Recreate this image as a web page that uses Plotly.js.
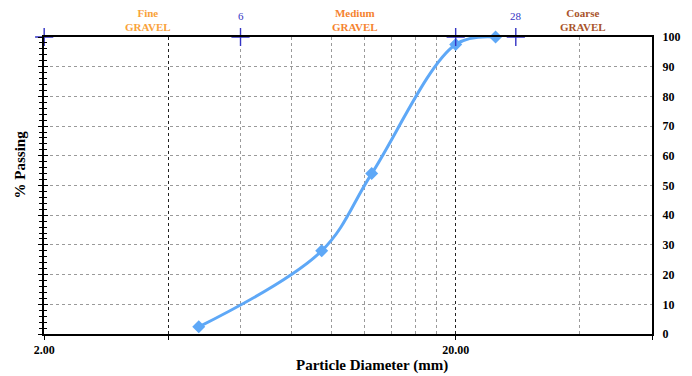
<!DOCTYPE html>
<html>
<head>
<meta charset="utf-8">
<script src="https://cdn.plot.ly/plotly-3.0.1.min.js"></script>
<style>html,body{margin:0;padding:0;background:#fff;}#chart{width:692px;height:376px;}</style>
</head>
<body>
<div id="chart"></div>
<script>
// Data
const diameter = [4.75, 9.45, 12.5, 20, 25];      // mm
const passing  = [2.4, 28, 54, 97.5, 100];       // %
const sieveMarks = [2, 6, 20, 28];
const sieveLabels = ['', '6', '', '28'];
const bottomTicks = [2, 4, 20, 60];
const bottomTickText = ['2.00', '', '20.00', ''];
const minorGrid = [6, 8, 10, 12, 14, 16, 18, 40];
const classNames = ['Fine<br>GRAVEL', 'Medium<br>GRAVEL', 'Coarse<br>GRAVEL'];
const classColors = ['#F9A23A', '#F5832F', '#A9532A'];
const classPos = [0.171, 0.512, 0.887];

const SERIF = 'Times New Roman, Liberation Serif, DejaVu Serif, serif';
const serifBold = {family: SERIF, size: 12, color: '#000', weight: 'bold'};
const blue = '#3434C4';
const lineBlue = '#5EA8F7';

const traces = [
  {x: diameter, y: passing, mode: 'lines', type: 'scatter',
   line: {shape: 'spline', smoothing: 1, color: lineBlue, width: 3},
   cliponaxis: true, hoverinfo: 'skip'},
  {x: diameter, y: passing, mode: 'markers', type: 'scatter',
   marker: {symbol: 'diamond', size: 10, color: lineBlue},
   cliponaxis: false},
  {x: sieveMarks, y: sieveMarks.map(() => 100), mode: 'markers', type: 'scatter',
   xaxis: 'x2', yaxis: 'y3',
   marker: {symbol: 'cross-thin', size: 13, color: blue, line: {color: blue, width: 1.4}},
   cliponaxis: false}
];

const annotations = [];
classNames.forEach((t, i) => annotations.push({
  text: '<b>' + t + '</b>', xref: 'paper', yref: 'paper', x: classPos[i], y: 1.008,
  xanchor: 'center', yanchor: 'bottom', showarrow: false,
  font: {family: SERIF, size: 11, color: classColors[i]}
}));
sieveMarks.forEach((v, i) => {
  if (sieveLabels[i]) annotations.push({
    text: sieveLabels[i], xref: 'x', yref: 'paper', x: Math.log10(v), y: 1.045,
    xanchor: 'center', yanchor: 'bottom', showarrow: false,
    font: {family: SERIF, size: 11, color: blue}
  });
});
annotations.push({
  text: '<b>Particle Diameter (mm)</b>', xref: 'paper', yref: 'paper', x: 0.54, y: -0.07,
  xanchor: 'center', yanchor: 'top', showarrow: false,
  font: {family: SERIF, size: 15, color: '#000'}
});
annotations.push({
  text: '<b>% Passing</b>', xref: 'paper', yref: 'paper', x: -0.04, y: 0.57,
  xanchor: 'center', yanchor: 'middle', showarrow: false, textangle: -90,
  font: {family: SERIF, size: 15, color: '#000'}
});

const xr = [Math.log10(1.998), Math.log10(60)];
const layout = {
  width: 692, height: 376,
  margin: {l: 44, r: 40, t: 37, b: 42},
  paper_bgcolor: '#fff', plot_bgcolor: '#fff',
  showlegend: false,
  font: {family: SERIF},
  xaxis: {
    type: 'log', range: xr, tickvals: bottomTicks, ticktext: bottomTickText,
    ticks: 'outside', ticklen: 4, tickcolor: '#000', tickfont: serifBold,
    showgrid: true, gridcolor: '#222', griddash: 'dot', gridwidth: 1,
    minor: {tickvals: minorGrid, showgrid: true, gridcolor: '#9a9a9a', griddash: 'dot', gridwidth: 1, ticks: ''},
    showline: true, linecolor: '#000', linewidth: 2, zeroline: false
  },
  xaxis2: {
    type: 'log', range: xr, overlaying: 'x', side: 'top', anchor: 'y', showline: true,
    linecolor: '#000', linewidth: 2, showticklabels: false, ticks: '', showgrid: false, zeroline: false
  },
  yaxis: {
    range: [0, 100], dtick: 10, tick0: 0, showticklabels: false,
    ticks: 'outside', ticklen: 4, tickcolor: '#000',
    minor: {dtick: 2, ticks: 'outside', ticklen: 3, tickcolor: '#000', showgrid: false},
    showgrid: true, gridcolor: '#9a9a9a', griddash: 'dot', gridwidth: 1,
    showline: true, linecolor: '#000', linewidth: 2, zeroline: false
  },
  yaxis2: {
    range: [0, 100], dtick: 10, overlaying: 'y', side: 'left', anchor: 'x',
    showticklabels: false, ticks: 'inside', ticklen: 4, tickcolor: '#000',
    minor: {dtick: 2, ticks: 'inside', ticklen: 3, tickcolor: '#000'},
    showgrid: false, showline: false, zeroline: false
  },
  yaxis3: {
    range: [0, 100], dtick: 10, overlaying: 'y', side: 'right', anchor: 'x2',
    showticklabels: true, ticks: '', tickfont: serifBold, ticklabelstandoff: 6,
    showgrid: false, showline: true, linecolor: '#000', linewidth: 2, zeroline: false
  },
  annotations: annotations
};

// invisible trace that activates the inner tick axis
traces.push({x: [diameter[0]], y: [passing[0]], xaxis: 'x', yaxis: 'y2', mode: 'markers',
  marker: {opacity: 0}, hoverinfo: 'skip'});

Plotly.newPlot('chart', traces, layout, {staticPlot: true});
</script>
</body>
</html>
